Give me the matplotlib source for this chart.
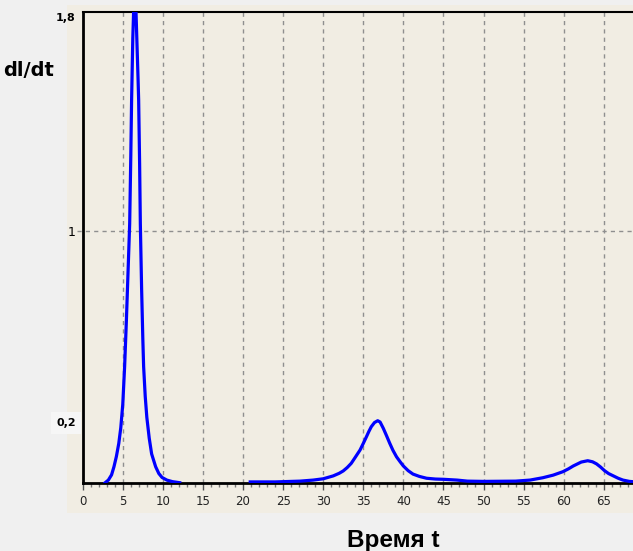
import numpy as np
import matplotlib
matplotlib.use("Agg")
import matplotlib.pyplot as plt
from matplotlib.patches import Rectangle

# curve (t, dI/dt); nan = gap where no line is drawn
t = [2.8, 3.2, 3.6, 3.9, 4.2, 4.5, 4.75, 5.0, 5.23, 5.45, 5.65, 5.86, 6.0,
     6.1, 6.25, 6.4, 6.5, 6.6, 6.75, 6.9, 6.98, 7.1, 7.19, 7.35, 7.5, 7.6,
     7.8, 8.0, 8.3, 8.6, 9.1, 9.5, 9.9, 10.5, 11.2, 12.1,
     16.0,
     20.9, 24.0, 27.1, 28.75, 30.0, 31.25, 32.0, 32.5, 33.0, 33.5, 34.0, 34.6,
     35.0, 35.4, 35.7, 36.0, 36.4, 36.8, 37.1, 37.5, 37.9, 38.3, 38.7, 39.15,
     39.6, 40.0, 40.6, 41.2, 42.0, 42.9, 44.0, 45.0, 46.7, 48.0, 50.0, 54.0,
     55.8, 57.4, 58.7, 59.9, 60.6, 61.2, 62.2, 63.0, 63.6, 64.1, 64.6, 65.1,
     65.6, 66.2, 66.8, 67.4, 68.2, 69.0]
didt = [0.0, 0.01, 0.03, 0.061, 0.10, 0.15, 0.21, 0.30, 0.444, 0.62, 0.80,
        0.99, 1.25, 1.463, 1.70, 1.85, 1.9, 1.85, 1.70, 1.55, 1.463, 1.22,
        0.99, 0.74, 0.55, 0.444, 0.33, 0.25, 0.17, 0.11, 0.061, 0.035, 0.02,
        0.01, 0.004, 0.0,
        np.nan,
        0.003, 0.003, 0.006, 0.01, 0.015, 0.026, 0.036, 0.045, 0.058, 0.074,
        0.097, 0.125, 0.15, 0.176, 0.196, 0.214, 0.23, 0.237, 0.232, 0.208,
        0.18, 0.151, 0.124, 0.099, 0.08, 0.064, 0.046, 0.033, 0.024, 0.017,
        0.014, 0.013, 0.01, 0.006, 0.005, 0.006, 0.010, 0.019, 0.029, 0.042,
        0.053, 0.064, 0.079, 0.084, 0.08, 0.072, 0.06, 0.046, 0.035, 0.026,
        0.017, 0.010, 0.005, 0.003]

xticks = list(range(0, 70, 5))
ytick_pos = [0.232, 0.963, 1.779]
ytick_lab = ["0,2", "1", "1,8"]

W, H = 633, 551
fig = plt.figure(figsize=(W / 100, H / 100), dpi=100, facecolor="#F0F0F0")
# beige panel behind the plot
fig.patches.append(Rectangle((67 / W, 1 - 513 / H), (W - 67) / W, (513 - 5) / H,
                             transform=fig.transFigure, facecolor="#F1EDE3",
                             edgecolor="none", zorder=0))

ax = fig.add_axes([82.7 / W, 1 - 482.7 / H, (W - 82.7) / W, 470.7 / H])
ax.set_zorder(2)
ax.set_facecolor("#F1EDE3")
ax.set_xlim(0, 68.65)
ax.set_ylim(0, 1.8)

for x in xticks[1:]:
    ax.axvline(x, color="#8f8f8f", lw=1, ls=(0, (3, 3)), zorder=1)
ax.axhline(ytick_pos[1], xmin=-6 / 550, color="#8f8f8f", lw=1,
           ls=(0, (3, 3)), clip_on=False, zorder=1)

ax.plot(t, didt, color="#0000FF", lw=2.3, zorder=3, solid_joinstyle="round")

ax.set_xticks(xticks)
ax.set_xticks(range(0, 69), minor=True)
ax.tick_params(axis="x", which="major", length=5, width=1, color="#555555",
               labelsize=8.5, labelcolor="#222222", pad=4)
ax.tick_params(axis="x", which="minor", length=3, width=1, color="#777777")

ax.set_yticks(ytick_pos)
ax.set_yticklabels(ytick_lab)
ax.tick_params(axis="y", length=0, pad=5)
for lab in ax.get_yticklabels():
    if lab.get_text() == "1":
        lab.set_fontsize(9)
    else:
        lab.set_fontsize(8)
        lab.set_fontweight("bold")
    if lab.get_text() == "0,2":
        lab.set_bbox(dict(facecolor="#F6F6F6", edgecolor="none", pad=4))

ax.spines["right"].set_visible(False)
ax.spines["left"].set_linewidth(2)
ax.spines["bottom"].set_linewidth(2)
ax.spines["top"].set_linewidth(1.5)
for s in ax.spines.values():
    s.set_zorder(2)

fig.text(3 / W, 1 - 71 / H, "dl/dt", fontsize=14, fontweight="bold",
         family="DejaVu Sans", ha="left", va="center")
fig.text(393.5 / W, 4.3 / H, "Время t", fontsize=17.5, fontweight="bold",
         family="Liberation Sans", ha="center", va="baseline")

fig.savefig("out.png", dpi=100, facecolor=fig.get_facecolor())
